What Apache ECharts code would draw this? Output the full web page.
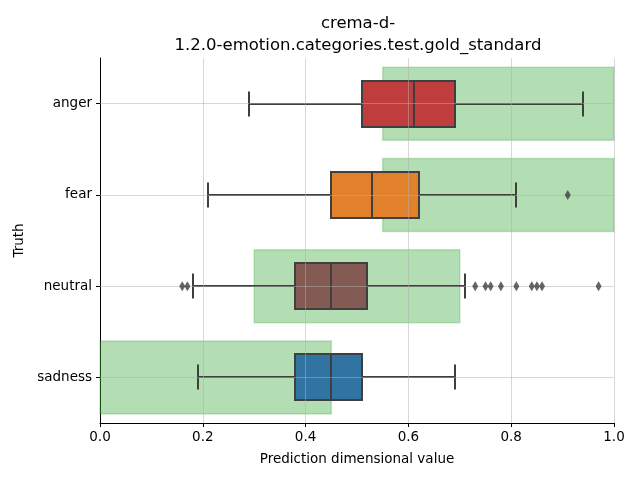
<!DOCTYPE html>
<html><head><meta charset="utf-8">
<script src="https://cdn.jsdelivr.net/npm/echarts@6/dist/echarts.min.js"></script>
<style>html,body{margin:0;padding:0;background:#fff}#c{width:640px;height:480px}</style>
</head><body><div id="c"></div>
<script>
const categories = ['anger', 'fear', 'neutral', 'sadness'];
// [whiskerLow, Q1, median, Q3, whiskerHigh]
const boxStats = [
  [0.29, 0.51, 0.61, 0.69, 0.94],
  [0.21, 0.45, 0.53, 0.62, 0.81],
  [0.18, 0.38, 0.45, 0.52, 0.71],
  [0.19, 0.38, 0.45, 0.51, 0.69]
];
const outliers = [
  [0.91, 'fear'],
  [0.16, 'neutral'], [0.17, 'neutral'],
  [0.73, 'neutral'], [0.75, 'neutral'], [0.76, 'neutral'], [0.78, 'neutral'],
  [0.81, 'neutral'], [0.84, 'neutral'], [0.85, 'neutral'], [0.86, 'neutral'], [0.97, 'neutral']
];
// gold standard ranges [start, end] per category
const goldRanges = [
  [0.55, 1.0],
  [0.55, 1.0],
  [0.30, 0.70],
  [0.00, 0.45]
];
const xTicks = [0, 0.2, 0.4, 0.6, 0.8, 1.0];
const boxColors = ['#c03d3e', '#e1812c', '#845b53', '#3274a1'];

const FONT = 'DejaVu Sans';
const EDGE = '#3f3f3f';
const GRIDC = 'rgba(176,176,176,0.5)';
const LW = 2;

const boxData = boxStats.map((s, i) => [i].concat(s));
const goldData = goldRanges.map((r, i) => [i, r[0], r[1]]);

function boxGeom(api) {
  const c = api.value(0);
  const px = k => Math.round(api.coord([api.value(k), c])[0]);
  const band = api.size([0, 1])[1];
  return {
    c, lo: px(1), q1: px(2), md: px(3), q3: px(4), hi: px(5),
    y: Math.round(api.coord([0, c])[1]), bh: Math.round(band * 0.5), ch: Math.round(band * 0.27)
  };
}

const chart = echarts.init(document.getElementById('c'), null, {renderer: 'canvas'});
chart.setOption({
  animation: false,
  backgroundColor: '#fff',
  title: {
    text: 'crema-d-\n1.2.0-emotion.categories.test.gold_standard',
    left: 353, top: 8, textAlign: 'center',
    textStyle: {fontFamily: FONT, fontSize: 16.5, fontWeight: 'normal', color: '#000', lineHeight: 22}
  },
  grid: {left: 100, right: 26, top: 58, bottom: 57},
  xAxis: {
    type: 'value', min: 0, max: 1, interval: 0.2,
    name: 'Prediction dimensional value', nameLocation: 'middle', nameGap: 29,
    nameTextStyle: {fontFamily: FONT, fontSize: 13.5, color: '#000'},
    axisLine: {show: true, lineStyle: {color: '#000', width: 1}},
    axisTick: {show: true, length: 4, lineStyle: {color: '#000'}},
    axisLabel: {fontFamily: FONT, fontSize: 13.5, color: '#000', margin: 7, formatter: v => v.toFixed(1)},
    splitLine: {show: false}
  },
  yAxis: {
    type: 'category', data: categories, inverse: true,
    name: 'Truth', nameLocation: 'middle', nameGap: 73, nameRotate: 90,
    nameTextStyle: {fontFamily: FONT, fontSize: 13.5, color: '#000'},
    axisLine: {show: true, lineStyle: {color: '#000', width: 1}},
    axisTick: {show: true, length: 4, alignWithLabel: true, lineStyle: {color: '#000'}},
    axisLabel: {fontFamily: FONT, fontSize: 13.5, color: '#000', margin: 8},
    splitLine: {show: false}
  },
  series: [
    {
      type: 'custom', name: 'gold', z: 1,
      encode: {x: [1, 2], y: 0},
      data: goldData,
      renderItem: function (params, api) {
        const c = api.value(0);
        const p0 = api.coord([api.value(1), c]);
        const p1 = api.coord([api.value(2), c]);
        const h = api.size([0, 1])[1] * 0.8;
        return {
          type: 'rect',
          shape: {x: p0[0], y: p0[1] - h / 2, width: p1[0] - p0[0], height: h},
          style: {fill: 'rgba(44,160,44,0.36)', stroke: 'rgba(44,160,44,0.25)', lineWidth: 1.5}
        };
      }
    },
    {
      type: 'custom', name: 'boxFill', z: 2,
      encode: {x: [1, 2, 3, 4, 5], y: 0},
      data: boxData,
      renderItem: function (params, api) {
        const g = boxGeom(api);
        return {
          type: 'rect',
          shape: {x: g.q1, y: g.y - g.bh / 2, width: g.q3 - g.q1, height: g.bh},
          style: {fill: boxColors[g.c]}
        };
      },
      markLine: {
        silent: true, symbol: 'none', label: {show: false}, animation: false,
        lineStyle: {color: GRIDC, width: 1, type: 'solid'},
        data: xTicks.slice(1).map(v => ({xAxis: v})).concat(categories.map(cn => ({yAxis: cn})))
      }
    },
    {
      type: 'custom', name: 'boxLines', z: 4,
      encode: {x: [1, 2, 3, 4, 5], y: 0},
      data: boxData,
      renderItem: function (params, api) {
        const g = boxGeom(api);
        const y = g.y, bh = g.bh, ch = g.ch;
        const ls = {stroke: EDGE, lineWidth: LW, fill: null};
        return {
          type: 'group',
          children: [
            {type: 'line', shape: {x1: g.lo, y1: y, x2: g.q1, y2: y}, style: ls},
            {type: 'line', shape: {x1: g.q3, y1: y, x2: g.hi, y2: y}, style: ls},
            {type: 'line', shape: {x1: g.lo, y1: y - ch / 2, x2: g.lo, y2: y + ch / 2}, style: ls},
            {type: 'line', shape: {x1: g.hi, y1: y - ch / 2, x2: g.hi, y2: y + ch / 2}, style: ls},
            {type: 'rect', shape: {x: g.q1, y: y - bh / 2, width: g.q3 - g.q1, height: bh},
             style: {fill: 'none', stroke: EDGE, lineWidth: LW}},
            {type: 'line', shape: {x1: g.md, y1: y - bh / 2, x2: g.md, y2: y + bh / 2}, style: ls}
          ]
        };
      }
    },
    {
      type: 'scatter', name: 'outliers', z: 5,
      data: outliers,
      symbol: 'diamond', symbolSize: [6, 10],
      itemStyle: {color: EDGE}
    }
  ]
});
</script></body></html>
